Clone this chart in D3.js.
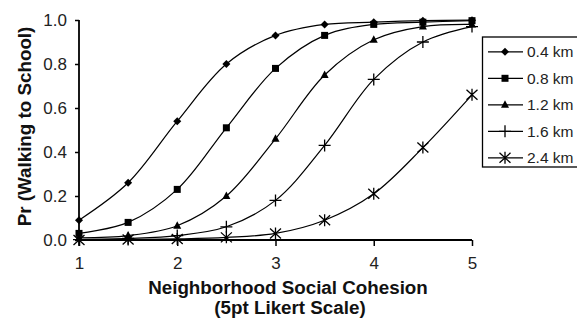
<!DOCTYPE html>
<html>
<head>
    <script src="https://d3js.org/d3.v7.min.js"></script>
    <style>
        body { margin: 0; background: white; }
        text { font-family: Arial, "Liberation Sans", sans-serif; }
    </style>
</head>
<body>
    <svg id="svg" width="577" height="322"></svg>
    <script>
        // data
        var cohesion = [1, 1.5, 2, 2.5, 3, 3.5, 4, 4.5, 5];
        var seriesNames = ["0.4 km", "0.8 km", "1.2 km", "1.6 km", "2.4 km"];
        var km04 = [0.09, 0.26, 0.54, 0.80, 0.93, 0.98, 0.99, 0.997, 0.999];
        var km08 = [0.03, 0.08, 0.23, 0.51, 0.78, 0.93, 0.98, 0.99, 0.997];
        var km12 = [0.01, 0.02, 0.065, 0.20, 0.46, 0.75, 0.91, 0.97, 0.98];
        var km16 = [0.002, 0.007, 0.02, 0.06, 0.18, 0.43, 0.73, 0.90, 0.97];
        var km24 = [0.0, 0.002, 0.005, 0.012, 0.03, 0.09, 0.21, 0.42, 0.66];
        var xTicks = [1, 2, 3, 4, 5];
        var yTicks = [0, 0.2, 0.4, 0.6, 0.8, 1.0];

        var allSeries = [km04, km08, km12, km16, km24];
        var symbols = ["diamond", "square", "triangle", "plus", "asterisk"];

        var svg = d3.select("#svg");
        var x = d3.scaleLinear().domain([1, 5]).range([79, 472]);
        var y = d3.scaleLinear().domain([0, 1]).range([240, 20]);

        // axes
        var gx = svg.append("g").attr("transform", "translate(0,240)")
            .call(d3.axisBottom(x).tickValues(xTicks).tickSize(6).tickPadding(11).tickFormat(d3.format("d")));
        var gy = svg.append("g").attr("transform", "translate(79,0)")
            .call(d3.axisLeft(y).tickValues(yTicks).tickSize(4).tickPadding(8).tickFormat(d3.format(".1f")));
        [gx, gy].forEach(function (g) {
            g.select(".domain").attr("stroke", "#000").attr("stroke-width", 1.8);
            g.selectAll(".tick line").attr("stroke", "#000").attr("stroke-width", 1.5);
            g.selectAll("text").attr("font-size", 17).attr("fill", "#222")
                .style("font-family", "Arial, 'Liberation Sans', sans-serif");
        });
        gx.select(".domain").attr("d", "M79,0H472");
        gy.select(".domain").attr("d", "M0,20V240");
        gy.selectAll(".tick text").attr("dy", "0.35em");

        // titles
        svg.append("text").attr("x", 288).attr("y", 294).attr("text-anchor", "middle")
            .attr("font-size", 18.8).attr("font-weight", "bold").attr("fill", "#111").text("Neighborhood Social Cohesion");
        svg.append("text").attr("x", 290).attr("y", 314).attr("text-anchor", "middle")
            .attr("font-size", 18.8).attr("font-weight", "bold").attr("fill", "#111").text("(5pt Likert Scale)");
        svg.append("text").attr("transform", "translate(31,126.5) rotate(-90)").attr("text-anchor", "middle")
            .attr("font-size", 18.8).attr("font-weight", "bold").attr("fill", "#111").text("Pr (Walking to School)");

        function drawMarker(g, type, cx, cy) {
            if (type == "diamond") {
                g.append("path").attr("d", "M" + cx + "," + (cy - 4) + "L" + (cx + 4) + "," + cy + "L" + cx + "," + (cy + 4) + "L" + (cx - 4) + "," + cy + "Z").attr("fill", "#000");
            } else if (type == "square") {
                g.append("rect").attr("x", cx - 3.5).attr("y", cy - 3.5).attr("width", 7).attr("height", 7).attr("fill", "#000");
            } else if (type == "triangle") {
                g.append("path").attr("d", "M" + cx + "," + (cy - 4.5) + "L" + (cx + 4) + "," + (cy + 3) + "L" + (cx - 4) + "," + (cy + 3) + "Z").attr("fill", "#000");
            } else if (type == "plus") {
                g.append("path").attr("d", "M" + (cx - 6) + "," + cy + "H" + (cx + 6) + "M" + cx + "," + (cy - 6) + "V" + (cy + 6))
                    .attr("stroke", "#000").attr("stroke-width", 1.3);
            } else {
                g.append("path").attr("d", "M" + (cx - 5.5) + "," + (cy - 5) + "L" + (cx + 5.5) + "," + (cy + 5) + "M" + (cx - 5.5) + "," + (cy + 5) + "L" + (cx + 5.5) + "," + (cy - 5) + "M" + cx + "," + (cy - 6) + "V" + (cy + 6))
                    .attr("stroke", "#000").attr("stroke-width", 1.3);
            }
        }

        var line = d3.line()
            .x(function (d, i) { return x(cohesion[i]); })
            .y(function (d) { return y(d); })
            .curve(d3.curveCatmullRom.alpha(0.5));

        allSeries.forEach(function (vals, s) {
            var g = svg.append("g");
            g.append("path").attr("d", line(vals)).attr("fill", "none").attr("stroke", "#000").attr("stroke-width", 1.2);
            vals.forEach(function (v, i) {
                drawMarker(g, symbols[s], x(cohesion[i]), y(v));
            });
        });

        // legend
        var lg = svg.append("g");
        lg.append("rect").attr("x", 482.5).attr("y", 37).attr("width", 110).attr("height", 130)
            .attr("fill", "white").attr("stroke", "#000").attr("stroke-width", 1.3);
        seriesNames.forEach(function (name, i) {
            var ly = 51.8 + i * 26.5;
            lg.append("line").attr("x1", 488).attr("x2", 523).attr("y1", ly).attr("y2", ly).attr("stroke", "#000").attr("stroke-width", 1.2);
            drawMarker(lg, symbols[i], 505, ly);
            lg.append("text").attr("x", 527).attr("y", ly + 5.5).attr("font-size", 15.5).attr("fill", "#222").text(name);
        });
    </script>
</body>
</html>
